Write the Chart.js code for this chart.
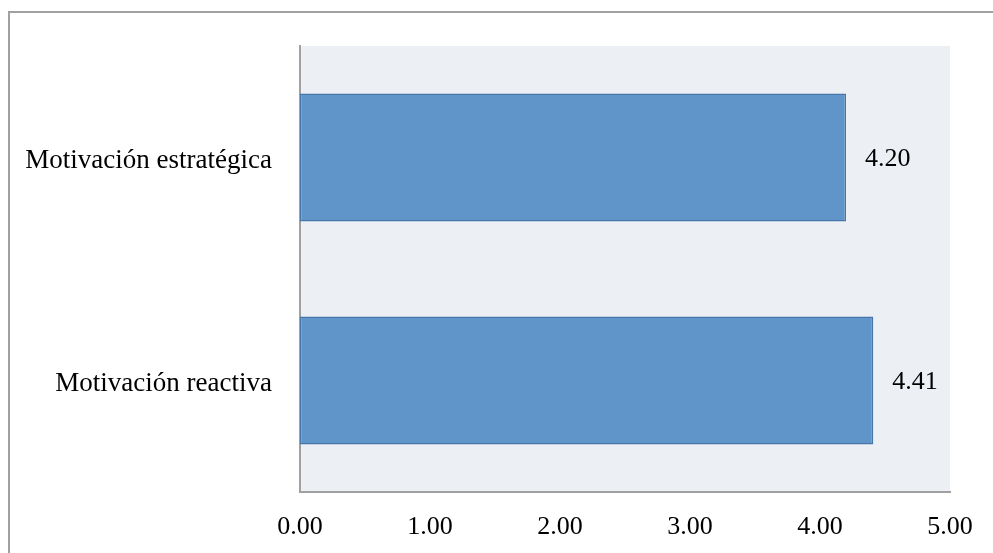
<!DOCTYPE html>
<html>
<head>
<meta charset="utf-8">
<script src="https://cdn.jsdelivr.net/npm/chart.js@4/dist/chart.umd.min.js"></script>
<style>
html,body{margin:0;padding:0;background:#fff;overflow:hidden;width:993px;height:553px;}
#frame{position:absolute;left:8px;top:11px;width:1000px;height:560px;border:2px solid #a0a0a0;box-sizing:border-box;}
#wrap{position:absolute;left:0;top:0;width:993px;height:553px;}
</style>
</head>
<body>
<div id="frame"></div>
<div id="wrap"><canvas id="c" width="993" height="553"></canvas></div>
<script>
const categories = ["Motivación estratégica", "Motivación reactiva"];
const values = [4.20, 4.41];
const xTicks = [0, 1, 2, 3, 4, 5];

const FONT = '"Liberation Serif", "Times New Roman", serif';

const plotBg = {
  id: 'plotBg',
  beforeDraw(chart) {
    const {ctx, chartArea: a} = chart;
    ctx.save();
    ctx.fillStyle = '#ECEFF4';
    ctx.fillRect(a.left, a.top, a.right - a.left, a.bottom - a.top);
    ctx.restore();
  }
};
const valueLabels = {
  id: 'valueLabels',
  afterDatasetsDraw(chart) {
    const {ctx} = chart;
    const meta = chart.getDatasetMeta(0);
    ctx.save();
    ctx.font = '26px ' + FONT;
    ctx.fillStyle = '#000';
    ctx.textAlign = 'left';
    ctx.textBaseline = 'middle';
    meta.data.forEach((bar, i) => {
      ctx.fillText(values[i].toFixed(2), bar.x + 19, bar.y + 2);
    });
    ctx.restore();
  }
};

new Chart(document.getElementById('c'), {
  type: 'bar',
  data: {
    labels: categories,
    datasets: [{
      data: values,
      backgroundColor: '#5F95C8',
      borderColor: '#4776AA',
      borderWidth: 1.5,
      borderSkipped: false,
      barPercentage: 0.574,
      categoryPercentage: 1
    }]
  },
  options: {
    indexAxis: 'y',
    responsive: false,
    animation: false,
    layout: { padding: { top: 46, right: 43, left: 0, bottom: 0 } },
    plugins: { legend: { display: false }, tooltip: { enabled: false } },
    scales: {
      x: {
        min: 0, max: 5,
        afterBuildTicks(scale) { scale.ticks = xTicks.map(v => ({value: v})); },
        afterFit(scale) { scale.height = 61; },
        grid: { display: false, drawTicks: false },
        border: { display: true, color: '#a0a0a0', width: 2 },
        ticks: {
          padding: 20,
          color: '#000',
          font: { family: FONT, size: 26 },
          callback: v => Number(v).toFixed(2),
          maxRotation: 0,
          autoSkip: false
        }
      },
      y: {
        afterFit(scale) { scale.width = 300; },
        grid: { display: false, drawTicks: false },
        border: { display: true, color: '#a0a0a0', width: 2 },
        ticks: {
          padding: 28,
          labelOffset: 3,
          color: '#000',
          font: { family: FONT, size: 27 }
        }
      }
    }
  },
  plugins: [plotBg, valueLabels]
});
</script>
</body>
</html>
